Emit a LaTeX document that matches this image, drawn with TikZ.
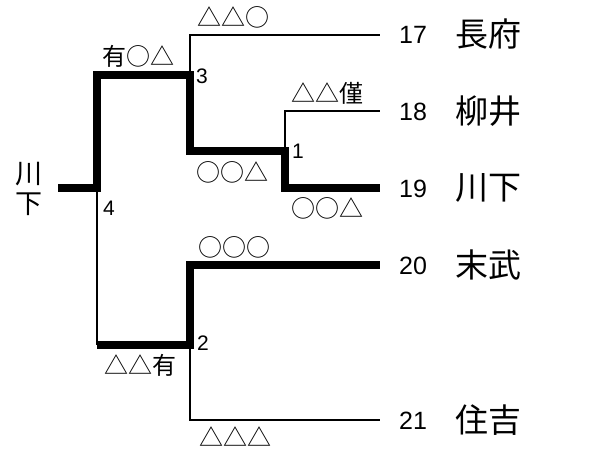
\documentclass[tikz,border=0pt]{standalone}
\usepackage{fontspec}
\setmainfont{Liberation Sans}
\newfontfamily\jp{Noto Sans CJK JP}
\begin{document}
\begin{tikzpicture}[x=1pt,y=-1pt,
 loseline/.style={line width=2.5pt, line join=miter},
 winline/.style={line width=8pt, line join=miter},
 res/.style={font=\jp\fontsize{24}{24}\selectfont, inner sep=0pt, anchor=west},
 seednum/.style={font=\fontsize{21}{21}\selectfont, inner sep=0pt, anchor=west},
 entrynum/.style={font=\fontsize{25}{25}\selectfont, inner sep=0pt, anchor=west},
 team/.style={font=\jp\fontsize{33}{33}\selectfont, inner sep=0pt, anchor=west}]
\useasboundingbox (0,0) rectangle (611,450);
% junction coordinates
\coordinate (R0) at (58,188);
\coordinate (J4) at (97,188);
\coordinate (T4) at (97,75);
\coordinate (B4) at (97,345);
\coordinate (J3) at (190,75);
\coordinate (T3) at (190,35);
\coordinate (B3) at (190,151);
\coordinate (J1) at (285,151);
\coordinate (T1) at (285,111);
\coordinate (B1) at (285,188);
\coordinate (J2) at (190,345);
\coordinate (T2) at (190,265);
\coordinate (B2) at (190,420);
\coordinate (E17) at (380,35);
\coordinate (E18) at (380,111);
\coordinate (E19) at (380,188);
\coordinate (E20) at (380,265);
\coordinate (E21) at (380,420);
% losing (thin) lines
\draw[loseline] (J3) -- (T3) -- (E17);
\draw[loseline] (J1) -- (T1) -- (E18);
\draw[loseline] (J4) -- (B4);
\draw[loseline] (J2) -- (B2) -- (E21);
% winning (thick) lines
\draw[winline] (R0) -- (J4) -- (T4) -- (J3) -- (B3) -- (J1) -- (B1) -- (E19);
\draw[winline] (B4) -- (J2) -- (T2) -- (E20);
% match numbers
\node[seednum] (n3) at (196,76) {3};
\node[seednum] (n1) at (292,151) {1};
\node[seednum] (n4) at (103,208) {4};
\node[seednum] (n2) at (197,343) {2};
% results
\node[res] (r17) at (197,17) {△△○};
\node[res] (r3) at (102,56) {有○△};
\node[res] (r31) at (196,172) {○○△};
\node[res] (r18) at (291,93) {△△僅};
\node[res] (r19) at (291,208) {○○△};
\node[res] (r20) at (198,247) {○○○};
\node[res] (r2) at (104,365) {△△有};
\node[res] (r21) at (199,437) {△△△};
% winner
\node[font=\jp\fontsize{27}{30}\selectfont, inner sep=0pt, align=center] (win) at (29,189) {川\\下};
% entries
\node[entrynum] (e17) at (399,35) {17};
\node[entrynum] (e18) at (399,112) {18};
\node[entrynum] (e19) at (399,189) {19};
\node[entrynum] (e20) at (399,266) {20};
\node[entrynum] (e21) at (399,421) {21};
\node[team] (t17) at (455,34) {長府};
\node[team] (t18) at (455,111) {柳井};
\node[team] (t19) at (455,188) {川下};
\node[team] (t20) at (455,265) {末武};
\node[team] (t21) at (455,420) {住吉};
\end{tikzpicture}
\end{document}
